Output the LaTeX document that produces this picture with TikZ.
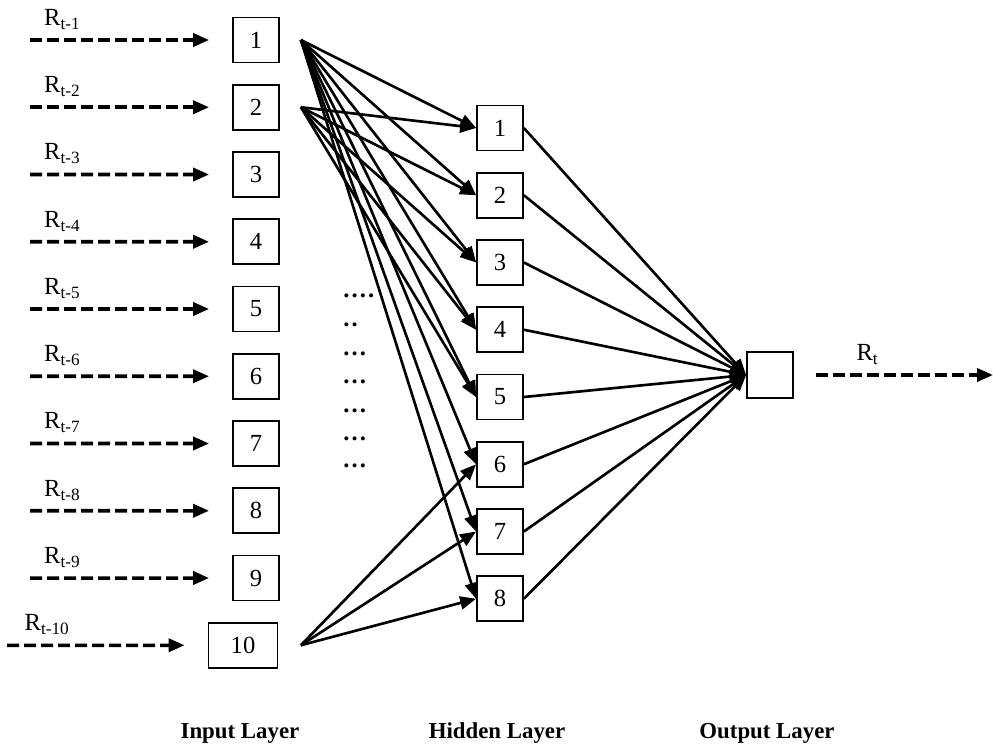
\documentclass[tikz,border=0pt]{standalone}
\usepackage{fontspec}
\setmainfont{Liberation Serif}
\usetikzlibrary{arrows.meta,positioning}

\tikzset{
  unit/.style={draw, line width=1pt, minimum width=0.92cm, minimum height=0.9cm, inner sep=0pt},
  feed/.style={dashed, dash pattern=on 0.24cm off 0.1cm, line width=2pt, shorten >=0.46cm},
  lag/.style={above=4pt, inner sep=1pt},
  layer/.style={font=\fontsize{13}{15}\selectfont\bfseries},
  dots/.style={anchor=base west, inner sep=0pt, font=\fontsize{14}{16}\selectfont\bfseries}
}

\begin{document}
\begin{tikzpicture}[-{Triangle[length=0.32cm,width=0.26cm]}, line width=1.5pt, node distance = 1.345cm, font=\fontsize{14}{16}\selectfont]
\useasboundingbox (0,0) rectangle (19.86,-14.98);

% input layer
\node[unit] (i1) at (5.12,-0.8) {1};
\node[unit] (i2) [below of=i1] {2};
\node[unit] (i3) [below of=i2] {3};
\node[unit] (i4) [below of=i3] {4};
\node[unit] (i5) [below of=i4] {5};
\node[unit] (i6) [below of=i5] {6};
\node[unit] (i7) [below of=i6] {7};
\node[unit] (i8) [below of=i7] {8};
\node[unit] (i9) [below of=i8] {9};
\node[unit, minimum width=1.38cm] (i10) [below of=i9, xshift=-0.26cm] {10};

% hidden layer
\node[unit] (h1) at (10.0,-2.56) {1};
\node[unit] (h2) [below of=h1] {2};
\node[unit] (h3) [below of=h2] {3};
\node[unit] (h4) [below of=h3] {4};
\node[unit] (h5) [below of=h4] {5};
\node[unit] (h6) [below of=h5] {6};
\node[unit] (h7) [below of=h6] {7};
\node[unit] (h8) [below of=h7] {8};

% output layer
\node[unit, minimum height=0.92cm] (o) at (15.4,-7.5) {};

% lagged inputs
\coordinate (s1) at (0.6,-0.8);
\coordinate (s2) at (0.6,-2.145);
\coordinate (s3) at (0.6,-3.49);
\coordinate (s4) at (0.6,-4.835);
\coordinate (s5) at (0.6,-6.18);
\coordinate (s6) at (0.6,-7.525);
\coordinate (s7) at (0.6,-8.87);
\coordinate (s8) at (0.6,-10.215);
\coordinate (s9) at (0.6,-11.56);
\coordinate (s10) at (0.14,-12.905);
\coordinate (e) at (19.86,-7.5);

\draw[feed] (s1) -- node[lag, pos=0.16] {R\textsubscript{t-1}} (i1);
\draw[feed] (s2) -- node[lag, pos=0.16] {R\textsubscript{t-2}} (i2);
\draw[feed] (s3) -- node[lag, pos=0.16] {R\textsubscript{t-3}} (i3);
\draw[feed] (s4) -- node[lag, pos=0.16] {R\textsubscript{t-4}} (i4);
\draw[feed] (s5) -- node[lag, pos=0.16] {R\textsubscript{t-5}} (i5);
\draw[feed] (s6) -- node[lag, pos=0.16] {R\textsubscript{t-6}} (i6);
\draw[feed] (s7) -- node[lag, pos=0.16] {R\textsubscript{t-7}} (i7);
\draw[feed] (s8) -- node[lag, pos=0.16] {R\textsubscript{t-8}} (i8);
\draw[feed] (s9) -- node[lag, pos=0.16] {R\textsubscript{t-9}} (i9);
\draw[feed] (s10) -- node[lag, pos=0.2] {R\textsubscript{t-10}} (i10);
\draw[feed, shorten >=0pt, shorten <=0.44cm] (o) -- node[lag, pos=0.37] {R\textsubscript{t}} (e);

% connections
\coordinate[right=0.42cm of i1] (a1);
\coordinate[right=0.42cm of i2] (a2);
\coordinate[right=0.45cm of i10] (a10);

\path (a1) edge (h1.west);
\path (a1) edge (h2.west);
\path (a1) edge (h3.west);
\path (a1) edge (h4.west);
\path (a1) edge (h5.west);
\path (a1) edge (h6.west);
\path (a1) edge (h7.west);
\path (a1) edge (h8.west);
\path (a2) edge (h1.west);
\path (a2) edge (h2.west);
\path (a2) edge (h3.west);
\path (a2) edge (h4.west);
\path (a2) edge (h5.west);
\path (a10) edge (h6.west);
\path (a10) edge (h7.west);
\path (a10) edge (h8.west);

\path (h1.east) edge (o.west);
\path (h2.east) edge (o.west);
\path (h3.east) edge (o.west);
\path (h4.east) edge (o.west);
\path (h5.east) edge (o.west);
\path (h6.east) edge (o.west);
\path (h7.east) edge (o.west);
\path (h8.east) edge (o.west);

% dots between the layers
\node[dots] (d1) at (6.84,-5.94) {.\kern1.2pt.\kern1.2pt.\kern1.2pt.};
\node[dots] (d2) at (6.84,-6.52) {.\kern1.2pt.};
\node[dots] (d3) at (6.84,-7.1) {.\kern1.2pt.\kern1.2pt.};
\node[dots] (d4) at (6.84,-7.66) {.\kern1.2pt.\kern1.2pt.};
\node[dots] (d5) at (6.84,-8.24) {.\kern1.2pt.\kern1.2pt.};
\node[dots] (d6) at (6.84,-8.8) {.\kern1.2pt.\kern1.2pt.};
\node[dots] (d7) at (6.84,-9.34) {.\kern1.2pt.\kern1.2pt.};

% layer names
\node[layer] (inl) at (4.8,-14.66) {Input Layer};
\node[layer] (hidl) at (9.94,-14.66) {Hidden Layer};
\node[layer] (outl) at (15.34,-14.66) {Output Layer};
\end{tikzpicture}
\end{document}
